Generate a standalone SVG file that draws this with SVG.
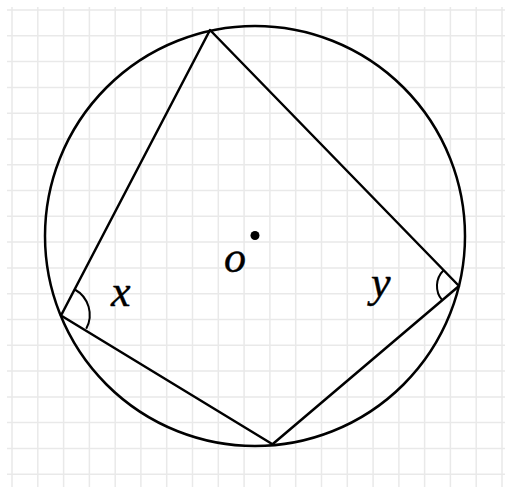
<svg xmlns="http://www.w3.org/2000/svg" width="505" height="487" viewBox="0 0 505 487">
<style>
.grid line{stroke:#e9e9e9;stroke-width:1.5}
.sh{fill:none;stroke:#000;stroke-width:2.5;stroke-linejoin:round}
.arc{fill:none;stroke:#000;stroke-width:2}
.lbl{font-family:"Liberation Serif",serif;font-style:italic;font-size:44px;fill:#000}
</style>
<rect width="505" height="487" fill="#fff"/>
<g class="grid">
<line x1="12" y1="7" x2="12" y2="487"/><line x1="37.8" y1="7" x2="37.8" y2="487"/><line x1="63.6" y1="7" x2="63.6" y2="487"/><line x1="89.4" y1="7" x2="89.4" y2="487"/><line x1="115.2" y1="7" x2="115.2" y2="487"/><line x1="140.9" y1="7" x2="140.9" y2="487"/><line x1="166.7" y1="7" x2="166.7" y2="487"/><line x1="192.5" y1="7" x2="192.5" y2="487"/><line x1="218.3" y1="7" x2="218.3" y2="487"/><line x1="244.1" y1="7" x2="244.1" y2="487"/><line x1="269.9" y1="7" x2="269.9" y2="487"/><line x1="295.7" y1="7" x2="295.7" y2="487"/><line x1="321.5" y1="7" x2="321.5" y2="487"/><line x1="347.3" y1="7" x2="347.3" y2="487"/><line x1="373.1" y1="7" x2="373.1" y2="487"/><line x1="398.9" y1="7" x2="398.9" y2="487"/><line x1="424.6" y1="7" x2="424.6" y2="487"/><line x1="450.4" y1="7" x2="450.4" y2="487"/><line x1="476.2" y1="7" x2="476.2" y2="487"/><line x1="502" y1="7" x2="502" y2="487"/>
<line x1="7" y1="10" x2="505" y2="10"/><line x1="7" y1="35.8" x2="505" y2="35.8"/><line x1="7" y1="61.6" x2="505" y2="61.6"/><line x1="7" y1="87.4" x2="505" y2="87.4"/><line x1="7" y1="113.2" x2="505" y2="113.2"/><line x1="7" y1="138.9" x2="505" y2="138.9"/><line x1="7" y1="164.7" x2="505" y2="164.7"/><line x1="7" y1="190.5" x2="505" y2="190.5"/><line x1="7" y1="216.3" x2="505" y2="216.3"/><line x1="7" y1="242.1" x2="505" y2="242.1"/><line x1="7" y1="267.9" x2="505" y2="267.9"/><line x1="7" y1="293.7" x2="505" y2="293.7"/><line x1="7" y1="319.5" x2="505" y2="319.5"/><line x1="7" y1="345.3" x2="505" y2="345.3"/><line x1="7" y1="371.1" x2="505" y2="371.1"/><line x1="7" y1="396.9" x2="505" y2="396.9"/><line x1="7" y1="422.6" x2="505" y2="422.6"/><line x1="7" y1="448.4" x2="505" y2="448.4"/><line x1="7" y1="474.2" x2="505" y2="474.2"/>
</g>
<g id="circle"><circle class="sh" cx="255" cy="236" r="210"/></g>
<g id="quad"><polygon class="sh" points="210,30 459,286 272.5,444.3 61,315.5"/></g>
<g id="angles">
<path class="arc" d="M74.8,289.5 A29,29 0 0 1 86.2,328.8"/>
<path class="arc" d="M443.6,270.2 A22,22 0 0 0 442.2,300.2"/>
</g>
<g id="center"><circle cx="255" cy="235.5" r="4.5" fill="#000"/></g>
<g id="labels">
<text class="lbl" x="111" y="306" stroke="#000" stroke-width="0.4">x</text>
<text class="lbl" x="371" y="297" stroke="#000" stroke-width="0.4">y</text>
<text class="lbl" x="224" y="272" stroke="#000" stroke-width="0.4">o</text>
</g>
</svg>
